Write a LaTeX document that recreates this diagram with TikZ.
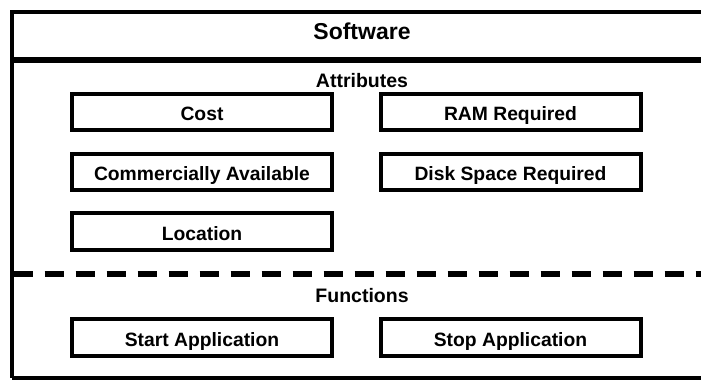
\documentclass[tikz,border=0pt]{standalone}
\usepackage{fontspec}
\setmainfont{Liberation Sans}
\begin{document}
\begin{tikzpicture}[x=1pt,y=-1pt,
  attrbox/.style={draw=black,line width=4pt,fill=white,minimum width=260pt,minimum height=36pt,inner sep=0pt,text height=17.6pt,text depth=0pt,font=\fontsize{19.3}{22}\selectfont\bfseries},
  heading/.style={inner sep=0pt,anchor=base,font=\fontsize{19.5}{22}\selectfont\bfseries},
  title/.style={inner sep=0pt,anchor=base,font=\fontsize{23}{26}\selectfont\bfseries}]
\useasboundingbox (0,0) rectangle (701,380);
\fill[white] (0,0) rectangle (701,380);
% outer frame (right side lies beyond the picture)
\draw[line width=4pt] (12,378) -- (12,11.5) -- (712,11.5);
\draw[line width=4pt] (12,378) -- (720,378);
\draw[line width=5.5pt] (12,60) -- (720,60);
\draw[line width=5.5pt,dash pattern=on 19.5pt off 11.5pt,dash phase=-0.5pt] (13,274) -- (720,274);
% texts
\node[title] (sw) at (362,39.5) {Software};
\node[heading] (at) at (362,87.5) {Attributes};
\node[heading] (fn) at (362,302.5) {Functions};
% attribute boxes
\node[attrbox] (cost) at (202,112) {Cost};
\node[attrbox] (ram) at (510.5,112) {RAM Required};
\node[attrbox] (comm) at (202,172) {Commercially Available};
\node[attrbox] (disk) at (510.5,172) {Disk Space Required};
\node[attrbox,minimum height=37pt] (loc) at (202,231.5) {Location};
% function boxes
\node[attrbox,minimum height=37pt] (start) at (202,337.5) {Start Application};
\node[attrbox,minimum height=37pt] (stop) at (510.5,337.5) {Stop Application};
\end{tikzpicture}
\end{document}
